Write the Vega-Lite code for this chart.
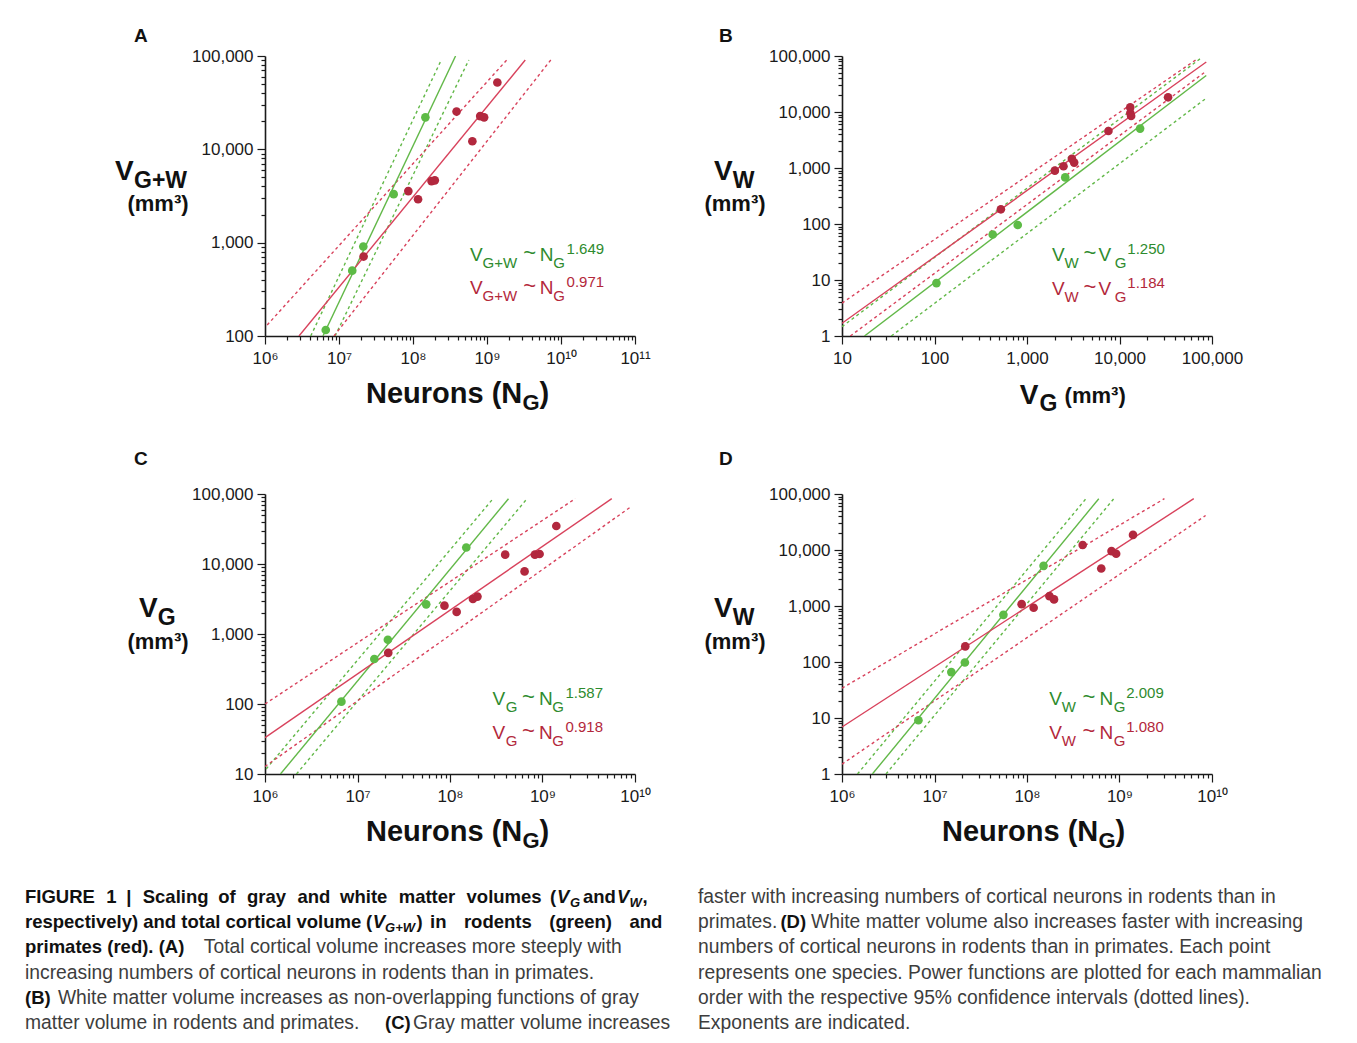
{
"$schema": "https://vega.github.io/schema/vega-lite/v6.json",
"background": "white",
"padding": {"left": 25, "top": 27, "right": 0, "bottom": 0},
"bounds": "flush",
"columns": 3,
"spacing": {"row": 129, "column": 207},
"config": {
  "view": {"stroke": null},
  "text": {"font": "Liberation Sans", "baseline": "alphabetic", "align": "left"},
  "axis": {"domainColor": "#1a1a1a", "domainWidth": 1.6, "tickColor": "#1a1a1a", "tickWidth": 1.2, "labelFont": "Liberation Sans", "labelFontSize": 17, "labelColor": "#1a1a1a", "labelFlush": false, "labelOverlap": false, "grid": false}
},
"datasets": {
  "points": [
    {"panel":"A","group":"Rodents","x":6.62e6,"y":116},{"panel":"A","group":"Rodents","x":1.51e7,"y":501},{"panel":"A","group":"Rodents","x":2.13e7,"y":910},{"panel":"A","group":"Rodents","x":5.48e7,"y":3310},{"panel":"A","group":"Rodents","x":1.47e8,"y":22000},
    {"panel":"A","group":"Primates","x":2.15e7,"y":710},{"panel":"A","group":"Primates","x":8.65e7,"y":3570},{"panel":"A","group":"Primates","x":1.17e8,"y":2920},{"panel":"A","group":"Primates","x":1.78e8,"y":4570},{"panel":"A","group":"Primates","x":1.97e8,"y":4650},{"panel":"A","group":"Primates","x":3.88e8,"y":25400},{"panel":"A","group":"Primates","x":6.34e8,"y":12200},{"panel":"A","group":"Primates","x":8.09e8,"y":22700},{"panel":"A","group":"Primates","x":9.14e8,"y":22000},{"panel":"A","group":"Primates","x":1.38e9,"y":52000},
    {"panel":"B","group":"Rodents","x":105,"y":8.8},{"panel":"B","group":"Rodents","x":426,"y":65},{"panel":"B","group":"Rodents","x":794,"y":96},{"panel":"B","group":"Rodents","x":2590,"y":680},{"panel":"B","group":"Rodents","x":16700,"y":5050},
    {"panel":"B","group":"Primates","x":522,"y":183},{"panel":"B","group":"Primates","x":2000,"y":897},{"panel":"B","group":"Primates","x":2480,"y":1075},{"panel":"B","group":"Primates","x":3060,"y":1455},{"panel":"B","group":"Primates","x":3235,"y":1250},{"panel":"B","group":"Primates","x":7590,"y":4580},{"panel":"B","group":"Primates","x":13060,"y":12080},{"panel":"B","group":"Primates","x":13100,"y":9550},{"panel":"B","group":"Primates","x":13350,"y":8500},{"panel":"B","group":"Primates","x":33500,"y":18300},
    {"panel":"C","group":"Rodents","x":6.7e6,"y":108},{"panel":"C","group":"Rodents","x":1.52e7,"y":440},{"panel":"C","group":"Rodents","x":2.13e7,"y":828},{"panel":"C","group":"Rodents","x":5.53e7,"y":2650},{"panel":"C","group":"Rodents","x":1.5e8,"y":17200},
    {"panel":"C","group":"Primates","x":2.15e7,"y":538},{"panel":"C","group":"Primates","x":8.71e7,"y":2540},{"panel":"C","group":"Primates","x":1.18e8,"y":2070},{"panel":"C","group":"Primates","x":1.77e8,"y":3160},{"panel":"C","group":"Primates","x":1.98e8,"y":3420},{"panel":"C","group":"Primates","x":3.95e8,"y":13600},{"panel":"C","group":"Primates","x":6.4e8,"y":7830},{"panel":"C","group":"Primates","x":8.28e8,"y":13600},{"panel":"C","group":"Primates","x":9.3e8,"y":13900},{"panel":"C","group":"Primates","x":1.41e9,"y":34900},
    {"panel":"D","group":"Rodents","x":6.7e6,"y":9.1},{"panel":"D","group":"Rodents","x":1.52e7,"y":66},{"panel":"D","group":"Rodents","x":2.13e7,"y":98},{"panel":"D","group":"Rodents","x":5.56e7,"y":695},{"panel":"D","group":"Rodents","x":1.51e8,"y":5210},
    {"panel":"D","group":"Primates","x":2.15e7,"y":190},{"panel":"D","group":"Primates","x":8.75e7,"y":1080},{"panel":"D","group":"Primates","x":1.18e8,"y":929},{"panel":"D","group":"Primates","x":1.75e8,"y":1500},{"panel":"D","group":"Primates","x":1.96e8,"y":1310},{"panel":"D","group":"Primates","x":4.0e8,"y":12300},{"panel":"D","group":"Primates","x":6.35e8,"y":4670},{"panel":"D","group":"Primates","x":8.2e8,"y":9570},{"panel":"D","group":"Primates","x":9.2e8,"y":8570},{"panel":"D","group":"Primates","x":1.4e9,"y":18600}
  ],
  "lines": [
    {"panel":"A","group":"Rodents","kind":"fit","x":6.07e6,"y":100},{"panel":"A","group":"Rodents","kind":"fit","x":3.76e8,"y":100000},
    {"panel":"A","group":"Rodents","kind":"ci1","x":4.15e6,"y":100},{"panel":"A","group":"Rodents","kind":"ci1","x":2.41e8,"y":90600},
    {"panel":"A","group":"Rodents","kind":"ci2","x":8.85e6,"y":100},{"panel":"A","group":"Rodents","kind":"ci2","x":5.68e8,"y":90600},
    {"panel":"A","group":"Primates","kind":"fit","x":2.88e6,"y":100},{"panel":"A","group":"Primates","kind":"fit","x":3.29e9,"y":90600},
    {"panel":"A","group":"Primates","kind":"ci1","x":1.07e6,"y":131},{"panel":"A","group":"Primates","kind":"ci1","x":1.88e9,"y":92000},
    {"panel":"A","group":"Primates","kind":"ci2","x":8.55e6,"y":100},{"panel":"A","group":"Primates","kind":"ci2","x":7.57e9,"y":94400},
    {"panel":"B","group":"Rodents","kind":"fit","x":17.5,"y":1},{"panel":"B","group":"Rodents","kind":"fit","x":86700,"y":44900},
    {"panel":"B","group":"Rodents","kind":"ci1","x":10,"y":1.47},{"panel":"B","group":"Rodents","kind":"ci1","x":74600,"y":89500},
    {"panel":"B","group":"Rodents","kind":"ci2","x":34.1,"y":1},{"panel":"B","group":"Rodents","kind":"ci2","x":85300,"y":17300},
    {"panel":"B","group":"Primates","kind":"fit","x":10,"y":1.69},{"panel":"B","group":"Primates","kind":"fit","x":86700,"y":78000},
    {"panel":"B","group":"Primates","kind":"ci1","x":10,"y":3.87},{"panel":"B","group":"Primates","kind":"ci1","x":68200,"y":87100},
    {"panel":"B","group":"Primates","kind":"ci2","x":12.3,"y":1},{"panel":"B","group":"Primates","kind":"ci2","x":86700,"y":53700},
    {"panel":"C","group":"Rodents","kind":"fit","x":1.47e6,"y":10},{"panel":"C","group":"Rodents","kind":"fit","x":4.29e8,"y":85700},
    {"panel":"C","group":"Rodents","kind":"ci1","x":1.03e6,"y":11.8},{"panel":"C","group":"Rodents","kind":"ci1","x":2.92e8,"y":85700},
    {"panel":"C","group":"Rodents","kind":"ci2","x":2.19e6,"y":10},{"panel":"C","group":"Rodents","kind":"ci2","x":6.81e8,"y":85700},
    {"panel":"C","group":"Primates","kind":"fit","x":1e6,"y":33},{"panel":"C","group":"Primates","kind":"fit","x":5.61e9,"y":85700},
    {"panel":"C","group":"Primates","kind":"ci1","x":1e6,"y":100},{"panel":"C","group":"Primates","kind":"ci1","x":2.26e9,"y":85700},
    {"panel":"C","group":"Primates","kind":"ci2","x":1e6,"y":12.8},{"panel":"C","group":"Primates","kind":"ci2","x":9.14e9,"y":66400},
    {"panel":"D","group":"Rodents","kind":"fit","x":2.13e6,"y":1},{"panel":"D","group":"Rodents","kind":"fit","x":5.97e8,"y":82400},
    {"panel":"D","group":"Rodents","kind":"ci1","x":1.47e6,"y":1},{"panel":"D","group":"Rodents","kind":"ci1","x":4.34e8,"y":82400},
    {"panel":"D","group":"Rodents","kind":"ci2","x":2.99e6,"y":1},{"panel":"D","group":"Rodents","kind":"ci2","x":8.67e8,"y":82400},
    {"panel":"D","group":"Primates","kind":"fit","x":1e6,"y":6.9},{"panel":"D","group":"Primates","kind":"fit","x":6.35e9,"y":82400},
    {"panel":"D","group":"Primates","kind":"ci1","x":1e6,"y":34},{"panel":"D","group":"Primates","kind":"ci1","x":3.06e9,"y":82400},
    {"panel":"D","group":"Primates","kind":"ci2","x":1e6,"y":1.5},{"panel":"D","group":"Primates","kind":"ci2","x":8.53e9,"y":41300}
  ],
  "caption": [
    {"seg":"L1a","col":"left","line":1,"text":"FIGURE \u20041 \u2005| \u2004Scaling \u2005of \u2004gray \u2004and \u2005white \u2004matter \u2004volumes"},
    {"seg":"L1a2","col":"left","line":1,"text":"("},
    {"seg":"L1b","col":"left","line":1,"text":"V"},
    {"seg":"L1c","col":"left","line":1,"text":"G"},
    {"seg":"L1d","col":"left","line":1,"text":"and"},
    {"seg":"L1e","col":"left","line":1,"text":"V"},
    {"seg":"L1f","col":"left","line":1,"text":"W"},
    {"seg":"L1g","col":"left","line":1,"text":","},
    {"seg":"L2a","col":"left","line":2,"text":"respectively) and total cortical volume"},
    {"seg":"L2a2","col":"left","line":2,"text":"("},
    {"seg":"L2b","col":"left","line":2,"text":"V"},
    {"seg":"L2c","col":"left","line":2,"text":"G+W"},
    {"seg":"L2d","col":"left","line":2,"text":")"},
    {"seg":"L2e","col":"left","line":2,"text":"in \u2004\u2004rodents \u2004\u2004(green) \u2004\u2004and"},
    {"seg":"L3a","col":"left","line":3,"text":"primates (red). (A)"},
    {"seg":"L3b","col":"left","line":3,"text":"Total cortical volume increases more steeply with"},
    {"seg":"L4","col":"left","line":4,"text":"increasing numbers of cortical neurons in rodents than in primates."},
    {"seg":"L5a","col":"left","line":5,"text":"(B)"},
    {"seg":"L5b","col":"left","line":5,"text":"White matter volume increases as non-overlapping functions of gray"},
    {"seg":"L6a","col":"left","line":6,"text":"matter volume in rodents and primates."},
    {"seg":"L6b","col":"left","line":6,"text":"(C)"},
    {"seg":"L6c","col":"left","line":6,"text":"Gray matter volume increases"},
    {"seg":"R1","col":"right","line":1,"text":"faster with increasing numbers of cortical neurons in rodents than in"},
    {"seg":"R2a","col":"right","line":2,"text":"primates."},
    {"seg":"R2b","col":"right","line":2,"text":"(D)"},
    {"seg":"R2c","col":"right","line":2,"text":"White matter volume also increases faster with increasing"},
    {"seg":"R3","col":"right","line":3,"text":"numbers of cortical neurons in rodents than in primates. Each point"},
    {"seg":"R4","col":"right","line":4,"text":"represents one species. Power functions are plotted for each mammalian"},
    {"seg":"R5","col":"right","line":5,"text":"order with the respective 95% confidence intervals (dotted lines)."},
    {"seg":"R6","col":"right","line":6,"text":"Exponents are indicated."}
  ]
},
"concat": [
  {"width": 33, "height": 309, "data": {"values": [{"a": 0}]}, "mark": {"type": "point", "opacity": 0}},
  {
    "width": 370, "height": 280,
    "layer": [
      {"data": {"name": "lines"}, "transform": [{"filter": "datum.panel == 'A' && datum.kind != 'fit'"}], "mark": {"type": "line", "strokeDash": [3, 3], "strokeWidth": 1.4, "clip": true},
       "encoding": {"x": {"field": "x", "type": "quantitative", "scale": {"type": "log", "domain": [1e6, 1e11], "nice": false}}, "y": {"field": "y", "type": "quantitative", "scale": {"type": "log", "domain": [100, 1e5], "nice": false}},
         "stroke": {"field": "group", "type": "nominal", "scale": {"domain": ["Rodents", "Primates"], "range": ["#62b848", "#d8425c"]}, "legend": null}, "detail": [{"field": "group"}, {"field": "kind"}]}},
      {"data": {"name": "lines"}, "transform": [{"filter": "datum.panel == 'A' && datum.kind == 'fit'"}], "mark": {"type": "line", "strokeWidth": 1.4, "clip": true},
       "encoding": {"x": {"field": "x", "type": "quantitative", "scale": {"type": "log", "domain": [1e6, 1e11], "nice": false}}, "y": {"field": "y", "type": "quantitative", "scale": {"type": "log", "domain": [100, 1e5], "nice": false}},
         "stroke": {"field": "group", "type": "nominal", "legend": null}, "detail": {"field": "group"}}},
      {"data": {"name": "points"}, "transform": [{"filter": "datum.panel == 'A'"}], "mark": {"type": "circle", "size": 75, "opacity": 1},
       "encoding": {
        "x": {"field": "x", "type": "quantitative", "scale": {"type": "log", "domain": [1e6, 1e11], "nice": false},
          "axis": {"title": null, "labelPadding": 6,
            "values": [1e6,2e6,3e6,4e6,5e6,6e6,7e6,8e6,9e6,1e7,2e7,3e7,4e7,5e7,6e7,7e7,8e7,9e7,1e8,2e8,3e8,4e8,5e8,6e8,7e8,8e8,9e8,1e9,2e9,3e9,4e9,5e9,6e9,7e9,8e9,9e9,1e10,2e10,3e10,4e10,5e10,6e10,7e10,8e10,9e10,1e11],
            "labelExpr": "abs(log(datum.value)/LN10-round(log(datum.value)/LN10))<0.001 ? '10' + (round(log(datum.value)/LN10) >= 10 ? '¹' + ['⁰','¹','²'][round(log(datum.value)/LN10)-10] : ['⁰','¹','²','³','⁴','⁵','⁶','⁷','⁸','⁹'][round(log(datum.value)/LN10)]) : ''",
            "tickSize": {"condition": {"test": "abs(log(datum.value)/LN10-round(log(datum.value)/LN10))<0.001", "value": 8}, "value": 4}}},
        "y": {"field": "y", "type": "quantitative", "scale": {"type": "log", "domain": [100, 1e5], "nice": false},
          "axis": {"title": null, "labelPadding": 4,
            "values": [100,200,300,400,500,600,700,800,900,1000,2000,3000,4000,5000,6000,7000,8000,9000,10000,20000,30000,40000,50000,60000,70000,80000,90000,100000],
            "labelExpr": "abs(log(datum.value)/LN10-round(log(datum.value)/LN10))<0.001 ? format(datum.value, ',') : ''",
            "tickSize": {"condition": {"test": "abs(log(datum.value)/LN10-round(log(datum.value)/LN10))<0.001", "value": 8}, "value": 4}}},
        "fill": {"field": "group", "type": "nominal", "scale": {"domain": ["Rodents", "Primates"], "range": ["#5dbb46", "#b2283e"]}, "legend": null}}},
      {"data": {"values": [{"t": 1}]}, "encoding": {"x": {"datum": 1e6, "type": "quantitative"}, "y": {"datum": 1e5, "type": "quantitative"}}, "mark": {"type": "text", "text": "A", "dx": -131, "dy": -14, "fontSize": 19, "fontWeight": "bold", "color": "#111111"}},
      {"data": {"values": [{"t": 1}]}, "encoding": {"x": {"datum": 1e6, "type": "quantitative"}, "y": {"datum": 3162.2777, "type": "quantitative"}}, "layer": [
        {"mark": {"type": "text", "text": "V", "dx": -150, "dy": -16, "fontSize": 28, "fontWeight": "bold", "color": "#111111"}},
        {"mark": {"type": "text", "text": "G+W", "dx": -131, "dy": -8, "fontSize": 23, "fontWeight": "bold", "color": "#111111"}},
        {"mark": {"type": "text", "text": "(mm³)", "align": "center", "dx": -107, "dy": 15, "fontSize": 22, "fontWeight": "bold", "color": "#111111"}}
      ]},
      {"data": {"values": [{"t": 1}]}, "encoding": {"x": {"datum": 316227766, "type": "quantitative"}, "y": {"datum": 100, "type": "quantitative"}}, "layer": [
        {"mark": {"type": "text", "text": "Neurons (N", "dx": -84, "dy": 67, "fontSize": 29, "fontWeight": "bold", "color": "#111111"}},
        {"mark": {"type": "text", "text": "G", "dx": 72.5, "dy": 74, "fontSize": 22, "fontWeight": "bold", "color": "#111111"}},
        {"mark": {"type": "text", "text": ")", "dx": 89.5, "dy": 67, "fontSize": 29, "fontWeight": "bold", "color": "#111111"}}
      ]},
      {"data": {"values": [{"t": 1}]}, "encoding": {"x": {"datum": 1e9, "type": "quantitative"}, "y": {"datum": 1000, "type": "quantitative"}}, "layer": [
        {"mark": {"type": "text", "text": "V", "dx": -17, "dy": 18.3, "fontSize": 19, "color": "#2e8b2e"}},
        {"mark": {"type": "text", "text": "G+W", "dx": -4.4, "dy": 25.3, "fontSize": 15, "color": "#2e8b2e"}},
        {"mark": {"type": "text", "text": "~", "dx": 36.2, "dy": 17.3, "fontSize": 22, "color": "#2e8b2e"}},
        {"mark": {"type": "text", "text": "N", "dx": 52.8, "dy": 18.3, "fontSize": 19, "color": "#2e8b2e"}},
        {"mark": {"type": "text", "text": "G", "dx": 66.3, "dy": 25.3, "fontSize": 15, "color": "#2e8b2e"}},
        {"mark": {"type": "text", "text": "1.649", "dx": 79.6, "dy": 11.3, "fontSize": 15, "color": "#2e8b2e"}},
        {"mark": {"type": "text", "text": "V", "dx": -17, "dy": 51.8, "fontSize": 19, "color": "#b3283b"}},
        {"mark": {"type": "text", "text": "G+W", "dx": -4.4, "dy": 58.8, "fontSize": 15, "color": "#b3283b"}},
        {"mark": {"type": "text", "text": "~", "dx": 36.2, "dy": 50.8, "fontSize": 22, "color": "#b3283b"}},
        {"mark": {"type": "text", "text": "N", "dx": 52.8, "dy": 51.8, "fontSize": 19, "color": "#b3283b"}},
        {"mark": {"type": "text", "text": "G", "dx": 66.3, "dy": 58.8, "fontSize": 15, "color": "#b3283b"}},
        {"mark": {"type": "text", "text": "0.971", "dx": 79.6, "dy": 44.8, "fontSize": 15, "color": "#b3283b"}}
      ]}
    ]
  },
  {
    "width": 370, "height": 280,
    "layer": [
      {"data": {"name": "lines"}, "transform": [{"filter": "datum.panel == 'B' && datum.kind != 'fit'"}], "mark": {"type": "line", "strokeDash": [3, 3], "strokeWidth": 1.4, "clip": true},
       "encoding": {"x": {"field": "x", "type": "quantitative", "scale": {"type": "log", "domain": [10, 1e5], "nice": false}}, "y": {"field": "y", "type": "quantitative", "scale": {"type": "log", "domain": [1, 1e5], "nice": false}},
         "stroke": {"field": "group", "type": "nominal", "scale": {"domain": ["Rodents", "Primates"], "range": ["#62b848", "#d8425c"]}, "legend": null}, "detail": [{"field": "group"}, {"field": "kind"}]}},
      {"data": {"name": "lines"}, "transform": [{"filter": "datum.panel == 'B' && datum.kind == 'fit'"}], "mark": {"type": "line", "strokeWidth": 1.4, "clip": true},
       "encoding": {"x": {"field": "x", "type": "quantitative", "scale": {"type": "log", "domain": [10, 1e5], "nice": false}}, "y": {"field": "y", "type": "quantitative", "scale": {"type": "log", "domain": [1, 1e5], "nice": false}},
         "stroke": {"field": "group", "type": "nominal", "legend": null}, "detail": {"field": "group"}}},
      {"data": {"name": "points"}, "transform": [{"filter": "datum.panel == 'B'"}], "mark": {"type": "circle", "size": 75, "opacity": 1},
       "encoding": {
        "x": {"field": "x", "type": "quantitative", "scale": {"type": "log", "domain": [10, 1e5], "nice": false},
          "axis": {"title": null, "labelPadding": 6,
            "values": [10,20,30,40,50,60,70,80,90,100,200,300,400,500,600,700,800,900,1000,2000,3000,4000,5000,6000,7000,8000,9000,10000,20000,30000,40000,50000,60000,70000,80000,90000,100000],
            "labelExpr": "abs(log(datum.value)/LN10-round(log(datum.value)/LN10))<0.001 ? format(datum.value, ',') : ''",
            "tickSize": {"condition": {"test": "abs(log(datum.value)/LN10-round(log(datum.value)/LN10))<0.001", "value": 8}, "value": 4}}},
        "y": {"field": "y", "type": "quantitative", "scale": {"type": "log", "domain": [1, 1e5], "nice": false},
          "axis": {"title": null, "labelPadding": 4,
            "values": [1,2,3,4,5,6,7,8,9,10,20,30,40,50,60,70,80,90,100,200,300,400,500,600,700,800,900,1000,2000,3000,4000,5000,6000,7000,8000,9000,10000,20000,30000,40000,50000,60000,70000,80000,90000,100000],
            "labelExpr": "abs(log(datum.value)/LN10-round(log(datum.value)/LN10))<0.001 ? format(datum.value, ',') : ''",
            "tickSize": {"condition": {"test": "abs(log(datum.value)/LN10-round(log(datum.value)/LN10))<0.001", "value": 8}, "value": 4}}},
        "fill": {"field": "group", "type": "nominal", "scale": {"domain": ["Rodents", "Primates"], "range": ["#5dbb46", "#b2283e"]}, "legend": null}}},
      {"data": {"values": [{"t": 1}]}, "encoding": {"x": {"datum": 10, "type": "quantitative"}, "y": {"datum": 1e5, "type": "quantitative"}}, "mark": {"type": "text", "text": "B", "dx": -123, "dy": -14, "fontSize": 19, "fontWeight": "bold", "color": "#111111"}},
      {"data": {"values": [{"t": 1}]}, "encoding": {"x": {"datum": 10, "type": "quantitative"}, "y": {"datum": 316.22777, "type": "quantitative"}}, "layer": [
        {"mark": {"type": "text", "text": "V", "dx": -128, "dy": -16, "fontSize": 28, "fontWeight": "bold", "color": "#111111"}},
        {"mark": {"type": "text", "text": "W", "dx": -109.3, "dy": -8, "fontSize": 23, "fontWeight": "bold", "color": "#111111"}},
        {"mark": {"type": "text", "text": "(mm³)", "align": "center", "dx": -107, "dy": 15, "fontSize": 22, "fontWeight": "bold", "color": "#111111"}}
      ]},
      {"data": {"values": [{"t": 1}]}, "encoding": {"x": {"datum": 1000, "type": "quantitative"}, "y": {"datum": 1, "type": "quantitative"}}, "layer": [
        {"mark": {"type": "text", "text": "V", "dx": -7.3, "dy": 68, "fontSize": 28, "fontWeight": "bold", "color": "#111111"}},
        {"mark": {"type": "text", "text": "G", "dx": 12.4, "dy": 75, "fontSize": 23, "fontWeight": "bold", "color": "#111111"}},
        {"mark": {"type": "text", "text": "(mm³)", "dx": 37.6, "dy": 67, "fontSize": 22, "fontWeight": "bold", "color": "#111111"}}
      ]},
      {"data": {"values": [{"t": 1}]}, "encoding": {"x": {"datum": 10000, "type": "quantitative"}, "y": {"datum": 10, "type": "quantitative"}}, "layer": [
        {"mark": {"type": "text", "text": "V", "dx": -67.5, "dy": -19, "fontSize": 19, "color": "#2e8b2e"}},
        {"mark": {"type": "text", "text": "W", "dx": -55, "dy": -12, "fontSize": 15, "color": "#2e8b2e"}},
        {"mark": {"type": "text", "text": "~", "dx": -36, "dy": -20, "fontSize": 22, "color": "#2e8b2e"}},
        {"mark": {"type": "text", "text": "V", "dx": -21, "dy": -19, "fontSize": 19, "color": "#2e8b2e"}},
        {"mark": {"type": "text", "text": "G", "dx": -4.8, "dy": -12, "fontSize": 15, "color": "#2e8b2e"}},
        {"mark": {"type": "text", "text": "1.250", "dx": 7.8, "dy": -26, "fontSize": 15, "color": "#2e8b2e"}},
        {"mark": {"type": "text", "text": "V", "dx": -67.5, "dy": 14.5, "fontSize": 19, "color": "#b3283b"}},
        {"mark": {"type": "text", "text": "W", "dx": -55, "dy": 21.5, "fontSize": 15, "color": "#b3283b"}},
        {"mark": {"type": "text", "text": "~", "dx": -36, "dy": 13.5, "fontSize": 22, "color": "#b3283b"}},
        {"mark": {"type": "text", "text": "V", "dx": -21, "dy": 14.5, "fontSize": 19, "color": "#b3283b"}},
        {"mark": {"type": "text", "text": "G", "dx": -4.8, "dy": 21.5, "fontSize": 15, "color": "#b3283b"}},
        {"mark": {"type": "text", "text": "1.184", "dx": 7.8, "dy": 7.5, "fontSize": 15, "color": "#b3283b"}}
      ]}
    ]
  },
  {"width": 33, "height": 280, "data": {"values": [{"a": 0}]}, "mark": {"type": "point", "opacity": 0}},
  {
    "width": 370, "height": 280,
    "layer": [
      {"data": {"name": "lines"}, "transform": [{"filter": "datum.panel == 'C' && datum.kind != 'fit'"}], "mark": {"type": "line", "strokeDash": [3, 3], "strokeWidth": 1.4, "clip": true},
       "encoding": {"x": {"field": "x", "type": "quantitative", "scale": {"type": "log", "domain": [1e6, 1e10], "nice": false}}, "y": {"field": "y", "type": "quantitative", "scale": {"type": "log", "domain": [10, 1e5], "nice": false}},
         "stroke": {"field": "group", "type": "nominal", "scale": {"domain": ["Rodents", "Primates"], "range": ["#62b848", "#d8425c"]}, "legend": null}, "detail": [{"field": "group"}, {"field": "kind"}]}},
      {"data": {"name": "lines"}, "transform": [{"filter": "datum.panel == 'C' && datum.kind == 'fit'"}], "mark": {"type": "line", "strokeWidth": 1.4, "clip": true},
       "encoding": {"x": {"field": "x", "type": "quantitative", "scale": {"type": "log", "domain": [1e6, 1e10], "nice": false}}, "y": {"field": "y", "type": "quantitative", "scale": {"type": "log", "domain": [10, 1e5], "nice": false}},
         "stroke": {"field": "group", "type": "nominal", "legend": null}, "detail": {"field": "group"}}},
      {"data": {"name": "points"}, "transform": [{"filter": "datum.panel == 'C'"}], "mark": {"type": "circle", "size": 75, "opacity": 1},
       "encoding": {
        "x": {"field": "x", "type": "quantitative", "scale": {"type": "log", "domain": [1e6, 1e10], "nice": false},
          "axis": {"title": null, "labelPadding": 6,
            "values": [1e6,2e6,3e6,4e6,5e6,6e6,7e6,8e6,9e6,1e7,2e7,3e7,4e7,5e7,6e7,7e7,8e7,9e7,1e8,2e8,3e8,4e8,5e8,6e8,7e8,8e8,9e8,1e9,2e9,3e9,4e9,5e9,6e9,7e9,8e9,9e9,1e10],
            "labelExpr": "abs(log(datum.value)/LN10-round(log(datum.value)/LN10))<0.001 ? '10' + (round(log(datum.value)/LN10) >= 10 ? '¹' + ['⁰','¹','²'][round(log(datum.value)/LN10)-10] : ['⁰','¹','²','³','⁴','⁵','⁶','⁷','⁸','⁹'][round(log(datum.value)/LN10)]) : ''",
            "tickSize": {"condition": {"test": "abs(log(datum.value)/LN10-round(log(datum.value)/LN10))<0.001", "value": 8}, "value": 4}}},
        "y": {"field": "y", "type": "quantitative", "scale": {"type": "log", "domain": [10, 1e5], "nice": false},
          "axis": {"title": null, "labelPadding": 4,
            "values": [10,20,30,40,50,60,70,80,90,100,200,300,400,500,600,700,800,900,1000,2000,3000,4000,5000,6000,7000,8000,9000,10000,20000,30000,40000,50000,60000,70000,80000,90000,100000],
            "labelExpr": "abs(log(datum.value)/LN10-round(log(datum.value)/LN10))<0.001 ? format(datum.value, ',') : ''",
            "tickSize": {"condition": {"test": "abs(log(datum.value)/LN10-round(log(datum.value)/LN10))<0.001", "value": 8}, "value": 4}}},
        "fill": {"field": "group", "type": "nominal", "scale": {"domain": ["Rodents", "Primates"], "range": ["#5dbb46", "#b2283e"]}, "legend": null}}},
      {"data": {"values": [{"t": 1}]}, "encoding": {"x": {"datum": 1e6, "type": "quantitative"}, "y": {"datum": 1e5, "type": "quantitative"}}, "mark": {"type": "text", "text": "C", "dx": -131, "dy": -29, "fontSize": 19, "fontWeight": "bold", "color": "#111111"}},
      {"data": {"values": [{"t": 1}]}, "encoding": {"x": {"datum": 1e6, "type": "quantitative"}, "y": {"datum": 1000, "type": "quantitative"}}, "layer": [
        {"mark": {"type": "text", "text": "V", "dx": -126, "dy": -17, "fontSize": 28, "fontWeight": "bold", "color": "#111111"}},
        {"mark": {"type": "text", "text": "G", "dx": -107.3, "dy": -9, "fontSize": 23, "fontWeight": "bold", "color": "#111111"}},
        {"mark": {"type": "text", "text": "(mm³)", "align": "center", "dx": -107, "dy": 15, "fontSize": 22, "fontWeight": "bold", "color": "#111111"}}
      ]},
      {"data": {"values": [{"t": 1}]}, "encoding": {"x": {"datum": 1e8, "type": "quantitative"}, "y": {"datum": 10, "type": "quantitative"}}, "layer": [
        {"mark": {"type": "text", "text": "Neurons (N", "dx": -84, "dy": 67, "fontSize": 29, "fontWeight": "bold", "color": "#111111"}},
        {"mark": {"type": "text", "text": "G", "dx": 72.5, "dy": 74, "fontSize": 22, "fontWeight": "bold", "color": "#111111"}},
        {"mark": {"type": "text", "text": ")", "dx": 89.5, "dy": 67, "fontSize": 29, "fontWeight": "bold", "color": "#111111"}}
      ]},
      {"data": {"values": [{"t": 1}]}, "encoding": {"x": {"datum": 1e9, "type": "quantitative"}, "y": {"datum": 100, "type": "quantitative"}}, "layer": [
        {"mark": {"type": "text", "text": "V", "dx": -50, "dy": 1, "fontSize": 19, "color": "#2e8b2e"}},
        {"mark": {"type": "text", "text": "G", "dx": -36.7, "dy": 8, "fontSize": 15, "color": "#2e8b2e"}},
        {"mark": {"type": "text", "text": "~", "dx": -20.5, "dy": 0, "fontSize": 22, "color": "#2e8b2e"}},
        {"mark": {"type": "text", "text": "N", "dx": -3.5, "dy": 1, "fontSize": 19, "color": "#2e8b2e"}},
        {"mark": {"type": "text", "text": "G", "dx": 9.8, "dy": 8, "fontSize": 15, "color": "#2e8b2e"}},
        {"mark": {"type": "text", "text": "1.587", "dx": 23, "dy": -6, "fontSize": 15, "color": "#2e8b2e"}},
        {"mark": {"type": "text", "text": "V", "dx": -50, "dy": 35, "fontSize": 19, "color": "#b3283b"}},
        {"mark": {"type": "text", "text": "G", "dx": -36.7, "dy": 42, "fontSize": 15, "color": "#b3283b"}},
        {"mark": {"type": "text", "text": "~", "dx": -20.5, "dy": 34, "fontSize": 22, "color": "#b3283b"}},
        {"mark": {"type": "text", "text": "N", "dx": -3.5, "dy": 35, "fontSize": 19, "color": "#b3283b"}},
        {"mark": {"type": "text", "text": "G", "dx": 9.8, "dy": 42, "fontSize": 15, "color": "#b3283b"}},
        {"mark": {"type": "text", "text": "0.918", "dx": 23, "dy": 28, "fontSize": 15, "color": "#b3283b"}}
      ]}
    ]
  },
  {
    "width": 370, "height": 280,
    "layer": [
      {"data": {"name": "lines"}, "transform": [{"filter": "datum.panel == 'D' && datum.kind != 'fit'"}], "mark": {"type": "line", "strokeDash": [3, 3], "strokeWidth": 1.4, "clip": true},
       "encoding": {"x": {"field": "x", "type": "quantitative", "scale": {"type": "log", "domain": [1e6, 1e10], "nice": false}}, "y": {"field": "y", "type": "quantitative", "scale": {"type": "log", "domain": [1, 1e5], "nice": false}},
         "stroke": {"field": "group", "type": "nominal", "scale": {"domain": ["Rodents", "Primates"], "range": ["#62b848", "#d8425c"]}, "legend": null}, "detail": [{"field": "group"}, {"field": "kind"}]}},
      {"data": {"name": "lines"}, "transform": [{"filter": "datum.panel == 'D' && datum.kind == 'fit'"}], "mark": {"type": "line", "strokeWidth": 1.4, "clip": true},
       "encoding": {"x": {"field": "x", "type": "quantitative", "scale": {"type": "log", "domain": [1e6, 1e10], "nice": false}}, "y": {"field": "y", "type": "quantitative", "scale": {"type": "log", "domain": [1, 1e5], "nice": false}},
         "stroke": {"field": "group", "type": "nominal", "legend": null}, "detail": {"field": "group"}}},
      {"data": {"name": "points"}, "transform": [{"filter": "datum.panel == 'D'"}], "mark": {"type": "circle", "size": 75, "opacity": 1},
       "encoding": {
        "x": {"field": "x", "type": "quantitative", "scale": {"type": "log", "domain": [1e6, 1e10], "nice": false},
          "axis": {"title": null, "labelPadding": 6,
            "values": [1e6,2e6,3e6,4e6,5e6,6e6,7e6,8e6,9e6,1e7,2e7,3e7,4e7,5e7,6e7,7e7,8e7,9e7,1e8,2e8,3e8,4e8,5e8,6e8,7e8,8e8,9e8,1e9,2e9,3e9,4e9,5e9,6e9,7e9,8e9,9e9,1e10],
            "labelExpr": "abs(log(datum.value)/LN10-round(log(datum.value)/LN10))<0.001 ? '10' + (round(log(datum.value)/LN10) >= 10 ? '¹' + ['⁰','¹','²'][round(log(datum.value)/LN10)-10] : ['⁰','¹','²','³','⁴','⁵','⁶','⁷','⁸','⁹'][round(log(datum.value)/LN10)]) : ''",
            "tickSize": {"condition": {"test": "abs(log(datum.value)/LN10-round(log(datum.value)/LN10))<0.001", "value": 8}, "value": 4}}},
        "y": {"field": "y", "type": "quantitative", "scale": {"type": "log", "domain": [1, 1e5], "nice": false},
          "axis": {"title": null, "labelPadding": 4,
            "values": [1,2,3,4,5,6,7,8,9,10,20,30,40,50,60,70,80,90,100,200,300,400,500,600,700,800,900,1000,2000,3000,4000,5000,6000,7000,8000,9000,10000,20000,30000,40000,50000,60000,70000,80000,90000,100000],
            "labelExpr": "abs(log(datum.value)/LN10-round(log(datum.value)/LN10))<0.001 ? format(datum.value, ',') : ''",
            "tickSize": {"condition": {"test": "abs(log(datum.value)/LN10-round(log(datum.value)/LN10))<0.001", "value": 8}, "value": 4}}},
        "fill": {"field": "group", "type": "nominal", "scale": {"domain": ["Rodents", "Primates"], "range": ["#5dbb46", "#b2283e"]}, "legend": null}}},
      {"data": {"values": [{"t": 1}]}, "encoding": {"x": {"datum": 1e6, "type": "quantitative"}, "y": {"datum": 1e5, "type": "quantitative"}}, "mark": {"type": "text", "text": "D", "dx": -123, "dy": -29, "fontSize": 19, "fontWeight": "bold", "color": "#111111"}},
      {"data": {"values": [{"t": 1}]}, "encoding": {"x": {"datum": 1e6, "type": "quantitative"}, "y": {"datum": 316.22777, "type": "quantitative"}}, "layer": [
        {"mark": {"type": "text", "text": "V", "dx": -128, "dy": -17, "fontSize": 28, "fontWeight": "bold", "color": "#111111"}},
        {"mark": {"type": "text", "text": "W", "dx": -109.3, "dy": -9, "fontSize": 23, "fontWeight": "bold", "color": "#111111"}},
        {"mark": {"type": "text", "text": "(mm³)", "align": "center", "dx": -107, "dy": 15, "fontSize": 22, "fontWeight": "bold", "color": "#111111"}}
      ]},
      {"data": {"values": [{"t": 1}]}, "encoding": {"x": {"datum": 1e8, "type": "quantitative"}, "y": {"datum": 1, "type": "quantitative"}}, "layer": [
        {"mark": {"type": "text", "text": "Neurons (N", "dx": -85, "dy": 67, "fontSize": 29, "fontWeight": "bold", "color": "#111111"}},
        {"mark": {"type": "text", "text": "G", "dx": 71.5, "dy": 74, "fontSize": 22, "fontWeight": "bold", "color": "#111111"}},
        {"mark": {"type": "text", "text": ")", "dx": 88.5, "dy": 67, "fontSize": 29, "fontWeight": "bold", "color": "#111111"}}
      ]},
      {"data": {"values": [{"t": 1}]}, "encoding": {"x": {"datum": 1e9, "type": "quantitative"}, "y": {"datum": 10, "type": "quantitative"}}, "layer": [
        {"mark": {"type": "text", "text": "V", "dx": -70.2, "dy": -13, "fontSize": 19, "color": "#2e8b2e"}},
        {"mark": {"type": "text", "text": "W", "dx": -57.7, "dy": -6, "fontSize": 15, "color": "#2e8b2e"}},
        {"mark": {"type": "text", "text": "~", "dx": -37, "dy": -14, "fontSize": 22, "color": "#2e8b2e"}},
        {"mark": {"type": "text", "text": "N", "dx": -20.1, "dy": -13, "fontSize": 19, "color": "#2e8b2e"}},
        {"mark": {"type": "text", "text": "G", "dx": -5.8, "dy": -6, "fontSize": 15, "color": "#2e8b2e"}},
        {"mark": {"type": "text", "text": "2.009", "dx": 6.7, "dy": -20, "fontSize": 15, "color": "#2e8b2e"}},
        {"mark": {"type": "text", "text": "V", "dx": -70.2, "dy": 21, "fontSize": 19, "color": "#b3283b"}},
        {"mark": {"type": "text", "text": "W", "dx": -57.7, "dy": 28, "fontSize": 15, "color": "#b3283b"}},
        {"mark": {"type": "text", "text": "~", "dx": -37, "dy": 20, "fontSize": 22, "color": "#b3283b"}},
        {"mark": {"type": "text", "text": "N", "dx": -20.1, "dy": 21, "fontSize": 19, "color": "#b3283b"}},
        {"mark": {"type": "text", "text": "G", "dx": -5.8, "dy": 28, "fontSize": 15, "color": "#b3283b"}},
        {"mark": {"type": "text", "text": "1.080", "dx": 6.7, "dy": 14, "fontSize": 15, "color": "#b3283b"}}
      ]}
    ]
  },
  {
    "width": 33, "height": 126,
    "data": {"name": "caption"},
    "encoding": {
      "x": {"field": "col", "type": "nominal", "scale": {"type": "point", "domain": ["left", "right"], "range": [0, 673], "padding": 0}, "axis": null},
      "y": {"field": "line", "type": "ordinal", "scale": {"type": "point", "domain": [1, 2, 3, 4, 5, 6], "padding": 0}, "axis": null},
      "text": {"field": "text"}
    },
    "layer": [
      {"transform": [{"filter": "indexof(['L1a','L2a','L3a','L5a'], datum.seg) >= 0"}], "mark": {"type": "text", "fontSize": 18.5, "fontWeight": "bold", "color": "#111111"}},
      {"transform": [{"filter": "indexof(['L4','L6a','R1','R2a','R3','R4','R5','R6'], datum.seg) >= 0"}], "mark": {"type": "text", "fontSize": 19.3, "color": "#3d3d3d"}},
      {"transform": [{"filter": "datum.seg == 'L1a2'"}], "mark": {"type": "text", "fontSize": 18.5, "fontWeight": "bold", "dx": 525, "color": "#111111"}},
      {"transform": [{"filter": "datum.seg == 'L1b'"}], "mark": {"type": "text", "fontSize": 18.5, "fontWeight": "bold", "fontStyle": "italic", "dx": 532, "color": "#111111"}},
      {"transform": [{"filter": "datum.seg == 'L1c'"}], "mark": {"type": "text", "fontSize": 13, "fontWeight": "bold", "fontStyle": "italic", "dx": 545, "dy": 4, "color": "#111111"}},
      {"transform": [{"filter": "datum.seg == 'L1d'"}], "mark": {"type": "text", "fontSize": 18.5, "fontWeight": "bold", "dx": 558, "color": "#111111"}},
      {"transform": [{"filter": "datum.seg == 'L1e'"}], "mark": {"type": "text", "fontSize": 18.5, "fontWeight": "bold", "fontStyle": "italic", "dx": 592, "color": "#111111"}},
      {"transform": [{"filter": "datum.seg == 'L1f'"}], "mark": {"type": "text", "fontSize": 13, "fontWeight": "bold", "fontStyle": "italic", "dx": 604.5, "dy": 4, "color": "#111111"}},
      {"transform": [{"filter": "datum.seg == 'L1g'"}], "mark": {"type": "text", "fontSize": 18.5, "fontWeight": "bold", "dx": 617.5, "color": "#111111"}},
      {"transform": [{"filter": "datum.seg == 'L2a2'"}], "mark": {"type": "text", "fontSize": 18.5, "fontWeight": "bold", "dx": 341, "color": "#111111"}},
      {"transform": [{"filter": "datum.seg == 'L2b'"}], "mark": {"type": "text", "fontSize": 18.5, "fontWeight": "bold", "fontStyle": "italic", "dx": 347.8, "color": "#111111"}},
      {"transform": [{"filter": "datum.seg == 'L2c'"}], "mark": {"type": "text", "fontSize": 13, "fontWeight": "bold", "fontStyle": "italic", "dx": 360.1, "dy": 4, "color": "#111111"}},
      {"transform": [{"filter": "datum.seg == 'L2d'"}], "mark": {"type": "text", "fontSize": 18.5, "fontWeight": "bold", "dx": 391.5, "color": "#111111"}},
      {"transform": [{"filter": "datum.seg == 'L2e'"}], "mark": {"type": "text", "fontSize": 18.5, "fontWeight": "bold", "dx": 405, "color": "#111111"}},
      {"transform": [{"filter": "datum.seg == 'L3b'"}], "mark": {"type": "text", "fontSize": 19.3, "dx": 178.8, "color": "#3d3d3d"}},
      {"transform": [{"filter": "datum.seg == 'L5b'"}], "mark": {"type": "text", "fontSize": 19.3, "dx": 32.9, "color": "#3d3d3d"}},
      {"transform": [{"filter": "datum.seg == 'L6b'"}], "mark": {"type": "text", "fontSize": 18.5, "fontWeight": "bold", "dx": 360, "color": "#111111"}},
      {"transform": [{"filter": "datum.seg == 'L6c'"}], "mark": {"type": "text", "fontSize": 19.3, "dx": 388, "color": "#3d3d3d"}},
      {"transform": [{"filter": "datum.seg == 'R2b'"}], "mark": {"type": "text", "fontSize": 18.5, "fontWeight": "bold", "dx": 82.4, "color": "#111111"}},
      {"transform": [{"filter": "datum.seg == 'R2c'"}], "mark": {"type": "text", "fontSize": 19.3, "dx": 113, "color": "#3d3d3d"}}
    ]
  }
]
}
